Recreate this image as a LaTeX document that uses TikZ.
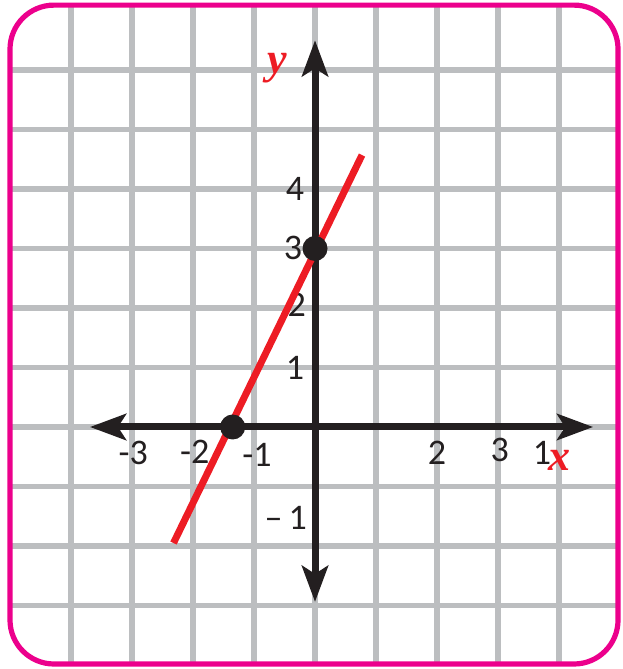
\documentclass[tikz,border=0pt]{standalone}
\usepackage{fontspec}
\setmainfont{Carlito}
\newfontfamily\labelfont{Liberation Serif}
\usepackage{xcolor}
\usepackage{tikz}
\usetikzlibrary{arrows.meta,positioning}
\definecolor{gridgray}{HTML}{BCBEC0}
\definecolor{framepink}{HTML}{EC008C}
\definecolor{linered}{HTML}{ED1C24}
\definecolor{axisblack}{HTML}{231F20}
\tikzset{
  tick/.style={font=\fontsize{18}{20}\selectfont,text=axisblack,inner sep=0pt},
  axlabel/.style={font=\labelfont\fontsize{22}{24}\selectfont\bfseries\itshape,text=linered,inner sep=0pt},
  dot/.style={circle,fill=axisblack,inner sep=0pt,minimum size=12.5pt},
  axisline/.style={axisblack,line width=3.5pt,-{Stealth[length=18pt,width=13pt,inset=4pt]}}
}
\begin{document}
\begin{tikzpicture}[x=30.5pt,y=29.75pt]
\useasboundingbox (-5.164,-4.067) rectangle (5.033,7.176);
\begin{scope}
\clip[rounded corners=22pt] (-5,-3.983) rectangle (4.967,7.09);
\foreach \i in {-4,...,4} \draw[gridgray,line width=2.8pt] (\i,-4.1) -- (\i,7.2);
\foreach \j in {-3,...,6} \draw[gridgray,line width=2.8pt] (-5.1,\j) -- (5.1,\j);
\end{scope}
\draw[framepink,line width=2.6pt,rounded corners=22pt] (-5,-3.983) rectangle (4.967,7.09);
\node[tick] (ty4) at (-0.33,4.0) {4};
\node[tick] (ty3) at (-0.36,3.01) {3};
\node[tick] (ty2) at (-0.30,2.05) {2};
\node[tick] (ty1) at (-0.33,0.99) {1};
\node[tick] (tym1) at (-0.48,-1.53) {–\,1};
\node[tick] (txm3) at (-2.98,-0.44) {-3};
\node[tick] (txm2) at (-1.97,-0.42) {-2};
\node[tick] (txm1) at (-0.95,-0.47) {-1};
\node[tick] (tx2) at (2.0,-0.44) {2};
\node[tick] (tx3) at (3.03,-0.39) {3};
\node[tick] (tx1) at (3.72,-0.44) {1};
\node[axlabel] (ylab) at (-0.62,6.03) {y};
\node[axlabel] (xlab) at (4.0,-0.56) {x};
\coordinate (xl) at (-3.69,0);
\coordinate (xr) at (4.56,0);
\coordinate (yb) at (0,-2.94);
\coordinate (yt) at (0,6.5);
\draw[axisline] (0,0) -- (xl);
\draw[axisline] (0,0) -- (xr);
\draw[axisline] (0,0) -- (yb);
\draw[axisline] (0,0) -- (yt);
\coordinate (lo) at (-2.32,-1.95);
\coordinate (hi) at (0.77,4.57);
\draw[linered,line width=3.5pt] (lo) -- (hi);
\node[dot] (xint) at (-1.35,0) {};
\node[dot] (yint) at (0,3) {};
\end{tikzpicture}
\end{document}
